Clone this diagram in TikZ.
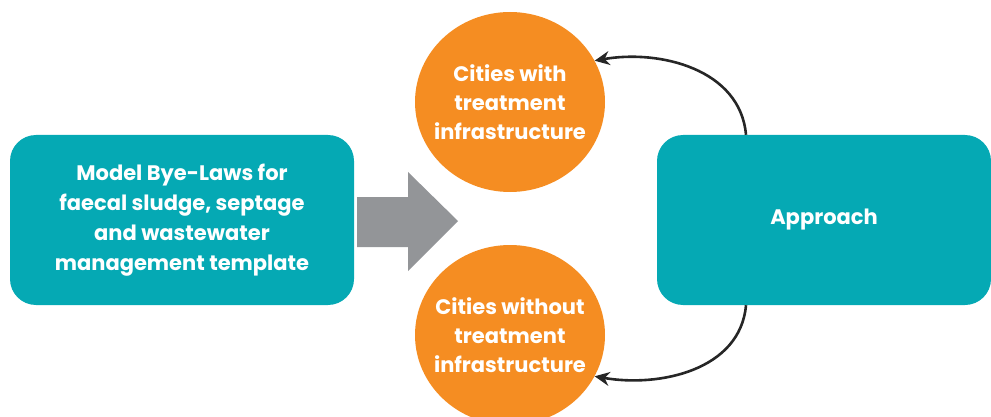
\documentclass[tikz,border=0pt]{standalone}
\usepackage{fontspec}
\setmainfont{Poppins}
\usetikzlibrary{shapes.geometric,arrows.meta}
\definecolor{teal}{HTML}{05A9B4}
\definecolor{orng}{HTML}{F58D22}
\definecolor{grayarr}{HTML}{939598}
\begin{document}
\begin{tikzpicture}[x=1pt,y=-1pt,
    box/.style={fill=teal,rounded corners=26pt,text=white,align=center,
        font=\fontsize{21}{30}\selectfont\bfseries},
    city/.style={ellipse,fill=orng,text=white,align=center,minimum width=190pt,
        minimum height=180pt,inner sep=-14pt,font=\fontsize{21}{29}\selectfont\bfseries},
    link/.style={-{Stealth[length=15pt,width=14pt]},line width=2.6pt,black!85}]
                \useasboundingbox(0,0)rectangle(991,417);
                \node[box,minimum width=344pt,minimum height=170pt](bye)at(182,220){Model Bye-Laws for\\faecal sludge, septage\\and wastewater\\management template};
                \node[box,minimum width=334pt,minimum height=170pt](appr)at(824,220){Approach};
                \node[city](with)at(510,102){Cities with\\treatment\\infrastructure};
                \node[city](without)at(510,335){Cities without\\treatment\\infrastructure};
                \fill[grayarr](357,197)--(408,197)--(408,172)--(458,221)--(408,271)--(408,247)--(357,247)--cycle;
                \draw[link]([xshift=-78pt]appr.north)to[out=95,in=10](with.26);
                \draw[link]([xshift=-78pt]appr.south)to[out=-95,in=-10](without.-26);
            \end{tikzpicture}
\end{document}
